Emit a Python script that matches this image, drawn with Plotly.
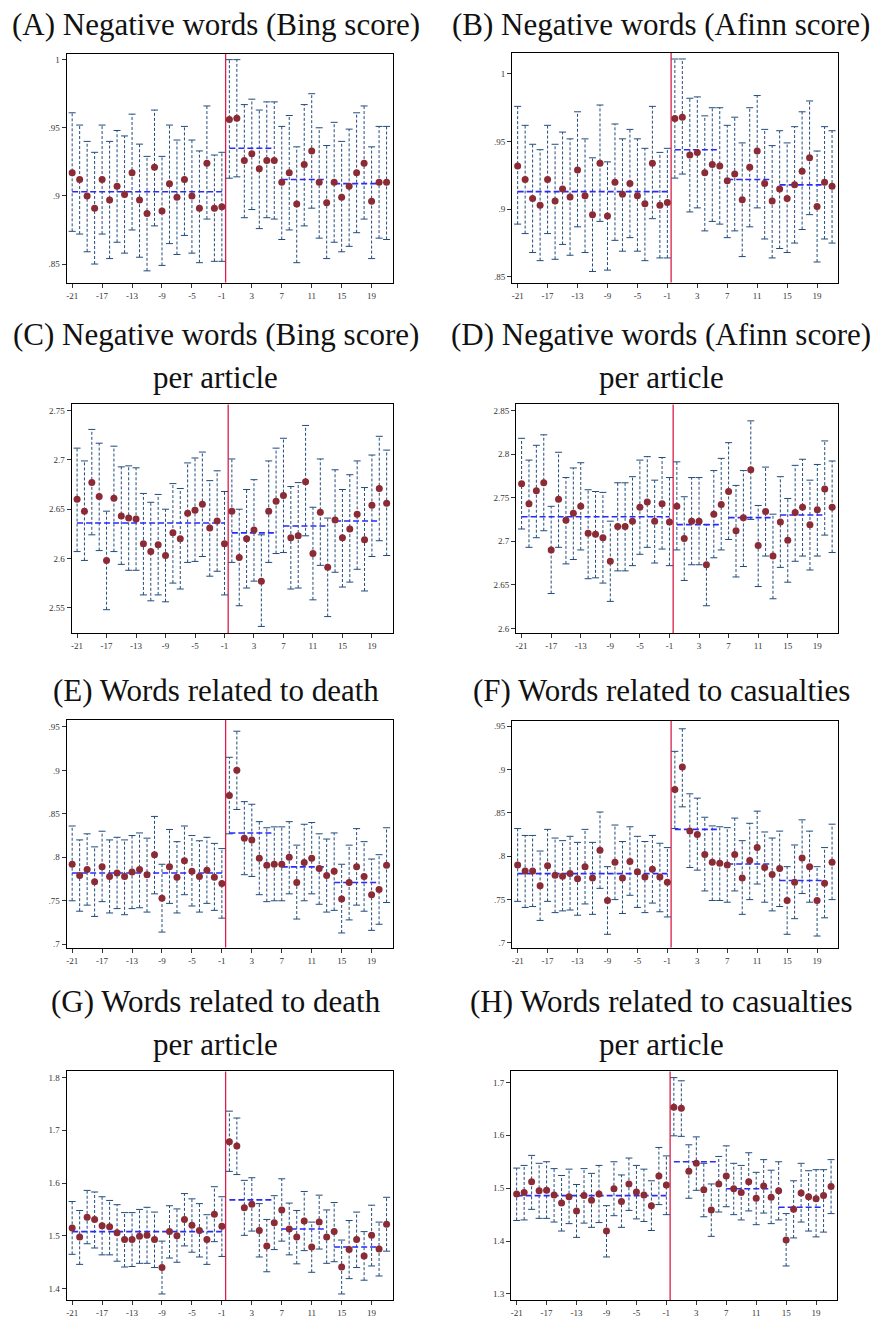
import plotly.graph_objects as go

# ---------------- data ----------------
REL_TIME = list(range(-21, 22))          # event time, 43 periods
EVENT_X = -0.5                           # event marker between -1 and 0
SEG_START = [-21, 0, 7, 14]              # averaging windows
SEG_END = [-1, 6, 13, 20]
X_TICKS = list(range(-21, 20, 4))

TITLES = [
    ["(A) Negative words (Bing score)"],
    ["(B) Negative words (Afinn score)"],
    ["(C) Negative words (Bing score)", "per article"],
    ["(D) Negative words (Afinn score)", "per article"],
    ["(E) Words related to death"],
    ["(F) Words related to casualties"],
    ["(G) Words related to death", "per article"],
    ["(H) Words related to casualties", "per article"],
]

A_point = [0.917,0.912,0.900,0.891,0.912,0.897,0.907,0.901,0.917,0.897,0.887,0.921,0.889,0.909,0.899,0.912,0.900,0.891,0.924,0.891,0.892,
           0.956,0.957,0.926,0.931,0.920,0.926,0.926,0.910,0.917,0.894,0.923,0.933,0.910,0.895,0.910,0.899,0.907,0.917,0.924,0.896,0.910,0.910]
A_hi = [0.961,0.952,0.940,0.932,0.952,0.940,0.948,0.944,0.960,0.938,0.929,0.963,0.929,0.952,0.941,0.951,0.941,0.933,0.966,0.930,0.932,
        1.000,1.000,0.967,0.971,0.963,0.969,0.969,0.951,0.959,0.936,0.967,0.975,0.950,0.937,0.954,0.940,0.949,0.961,0.966,0.936,0.951,0.951]
A_lo = [0.874,0.872,0.859,0.850,0.872,0.854,0.866,0.858,0.875,0.855,0.845,0.878,0.849,0.865,0.857,0.871,0.858,0.851,0.883,0.852,0.852,
        0.913,0.914,0.884,0.890,0.876,0.884,0.883,0.868,0.875,0.851,0.878,0.891,0.869,0.854,0.866,0.859,0.863,0.873,0.883,0.854,0.869,0.868]
A_mean = [0.903, 0.935, 0.912, 0.909]

B_point = [0.932,0.922,0.908,0.903,0.922,0.906,0.915,0.909,0.929,0.910,0.896,0.934,0.895,0.920,0.911,0.919,0.910,0.904,0.934,0.903,0.905,
           0.967,0.968,0.940,0.942,0.927,0.933,0.932,0.921,0.926,0.907,0.931,0.943,0.919,0.906,0.915,0.908,0.918,0.928,0.938,0.902,0.920,0.917]
B_hi = [0.976,0.962,0.948,0.944,0.962,0.948,0.957,0.952,0.972,0.952,0.938,0.977,0.935,0.963,0.952,0.959,0.952,0.945,0.976,0.942,0.945,
        1.011,1.011,0.982,0.983,0.969,0.975,0.975,0.962,0.968,0.949,0.975,0.984,0.959,0.947,0.958,0.949,0.961,0.972,0.980,0.943,0.961,0.958]
B_lo = [0.889,0.882,0.868,0.862,0.882,0.863,0.874,0.866,0.887,0.868,0.854,0.891,0.855,0.877,0.869,0.879,0.869,0.862,0.893,0.864,0.864,
        0.923,0.926,0.898,0.901,0.884,0.891,0.889,0.879,0.884,0.865,0.887,0.901,0.878,0.864,0.871,0.868,0.875,0.885,0.896,0.861,0.878,0.875]
B_mean = [0.913, 0.944, 0.922, 0.918]

C_point = [2.660,2.648,2.677,2.663,2.598,2.661,2.643,2.641,2.640,2.615,2.607,2.614,2.603,2.626,2.620,2.646,2.649,2.655,2.631,2.638,2.615,
           2.648,2.601,2.620,2.629,2.577,2.648,2.658,2.664,2.621,2.623,2.678,2.605,2.647,2.591,2.639,2.621,2.630,2.645,2.619,2.654,2.671,2.656]
C_hi = [2.712,2.699,2.731,2.717,2.648,2.714,2.693,2.694,2.692,2.666,2.657,2.665,2.650,2.676,2.671,2.697,2.702,2.708,2.679,2.689,2.668,
        2.701,2.650,2.670,2.680,2.624,2.699,2.712,2.722,2.673,2.677,2.735,2.652,2.701,2.641,2.690,2.670,2.685,2.699,2.672,2.705,2.724,2.710]
C_lo = [2.607,2.598,2.624,2.608,2.548,2.607,2.594,2.588,2.588,2.563,2.557,2.563,2.556,2.575,2.569,2.596,2.597,2.602,2.582,2.587,2.563,
        2.596,2.552,2.570,2.577,2.531,2.596,2.605,2.606,2.569,2.570,2.623,2.558,2.593,2.541,2.586,2.571,2.576,2.589,2.567,2.602,2.618,2.603]
C_mean = [2.636, 2.626, 2.633, 2.638]

D_point = [2.766,2.743,2.758,2.767,2.690,2.748,2.724,2.732,2.740,2.709,2.708,2.704,2.677,2.717,2.717,2.723,2.739,2.745,2.723,2.743,2.722,
           2.740,2.703,2.723,2.723,2.673,2.731,2.742,2.757,2.712,2.727,2.782,2.695,2.734,2.683,2.722,2.701,2.733,2.739,2.719,2.736,2.760,2.739]
D_hi = [2.818,2.793,2.810,2.822,2.740,2.802,2.773,2.784,2.790,2.759,2.757,2.756,2.723,2.767,2.767,2.774,2.793,2.797,2.770,2.796,2.773,
        2.791,2.751,2.773,2.773,2.719,2.781,2.795,2.813,2.764,2.781,2.838,2.741,2.785,2.731,2.774,2.749,2.787,2.794,2.770,2.788,2.815,2.792]
D_lo = [2.714,2.693,2.704,2.712,2.640,2.693,2.674,2.679,2.690,2.657,2.658,2.652,2.631,2.666,2.666,2.672,2.685,2.693,2.675,2.691,2.672,
        2.690,2.655,2.673,2.673,2.626,2.681,2.690,2.702,2.659,2.671,2.725,2.648,2.683,2.634,2.670,2.653,2.677,2.683,2.667,2.683,2.707,2.687]
D_mean = [2.728, 2.719, 2.727, 2.730]

E_point = [0.792,0.779,0.786,0.772,0.789,0.778,0.782,0.778,0.783,0.786,0.780,0.803,0.753,0.789,0.777,0.796,0.784,0.778,0.785,0.777,0.770,
           0.871,0.900,0.822,0.820,0.799,0.791,0.792,0.792,0.800,0.771,0.794,0.799,0.787,0.779,0.784,0.752,0.771,0.789,0.778,0.757,0.763,0.791]
E_hi = [0.836,0.820,0.827,0.812,0.830,0.820,0.823,0.820,0.825,0.828,0.822,0.847,0.792,0.832,0.818,0.836,0.825,0.819,0.823,0.816,0.810,
        0.915,0.945,0.864,0.861,0.841,0.834,0.835,0.835,0.841,0.814,0.838,0.840,0.827,0.821,0.828,0.792,0.814,0.833,0.818,0.798,0.803,0.834]
E_lo = [0.750,0.738,0.745,0.732,0.749,0.736,0.741,0.734,0.741,0.742,0.737,0.758,0.714,0.747,0.736,0.757,0.744,0.737,0.747,0.739,0.730,
        0.827,0.855,0.780,0.778,0.757,0.749,0.750,0.750,0.758,0.729,0.750,0.758,0.746,0.737,0.739,0.713,0.728,0.745,0.738,0.716,0.723,0.748]
E_mean = [0.782, 0.828, 0.789, 0.771]

F_point = [0.790,0.783,0.783,0.766,0.789,0.778,0.777,0.780,0.774,0.788,0.775,0.807,0.749,0.793,0.775,0.794,0.782,0.776,0.785,0.776,0.770,
           0.877,0.903,0.829,0.825,0.802,0.793,0.792,0.790,0.802,0.775,0.795,0.810,0.787,0.779,0.786,0.749,0.770,0.798,0.788,0.749,0.769,0.793]
F_hi = [0.832,0.824,0.824,0.806,0.831,0.821,0.818,0.823,0.816,0.831,0.816,0.851,0.788,0.836,0.817,0.834,0.823,0.817,0.824,0.815,0.810,
        0.921,0.947,0.872,0.867,0.845,0.835,0.834,0.833,0.844,0.818,0.838,0.852,0.828,0.821,0.829,0.788,0.813,0.842,0.829,0.788,0.810,0.837]
F_lo = [0.748,0.741,0.742,0.726,0.748,0.735,0.737,0.738,0.732,0.745,0.733,0.763,0.710,0.750,0.734,0.755,0.741,0.735,0.746,0.736,0.730,
        0.832,0.857,0.787,0.784,0.760,0.749,0.749,0.747,0.760,0.733,0.750,0.768,0.747,0.737,0.742,0.710,0.728,0.757,0.747,0.708,0.729,0.750]
F_mean = [0.780, 0.831, 0.791, 0.772]

G_point = [1.515,1.498,1.535,1.531,1.519,1.517,1.506,1.493,1.493,1.499,1.501,1.493,1.440,1.508,1.500,1.531,1.520,1.510,1.493,1.541,1.518,
           1.678,1.670,1.553,1.560,1.510,1.481,1.525,1.549,1.513,1.498,1.528,1.479,1.526,1.498,1.508,1.441,1.474,1.493,1.462,1.501,1.475,1.522]
G_hi = [1.565,1.548,1.586,1.583,1.574,1.567,1.559,1.544,1.544,1.550,1.554,1.545,1.490,1.557,1.551,1.580,1.570,1.561,1.540,1.593,1.574,
        1.736,1.723,1.605,1.610,1.561,1.531,1.576,1.608,1.562,1.548,1.584,1.526,1.577,1.549,1.563,1.492,1.529,1.545,1.508,1.558,1.526,1.573]
G_lo = [1.465,1.446,1.485,1.477,1.464,1.464,1.452,1.441,1.442,1.448,1.448,1.440,1.390,1.458,1.450,1.481,1.469,1.460,1.446,1.489,1.461,
        1.622,1.616,1.501,1.509,1.460,1.432,1.474,1.490,1.464,1.447,1.472,1.431,1.475,1.448,1.451,1.390,1.419,1.440,1.416,1.443,1.424,1.471]
G_mean = [1.508, 1.568, 1.513, 1.479]

H_point = [1.489,1.492,1.512,1.495,1.496,1.487,1.472,1.484,1.457,1.486,1.477,1.489,1.419,1.499,1.475,1.508,1.493,1.487,1.467,1.523,1.506,
           1.653,1.651,1.532,1.547,1.497,1.459,1.508,1.523,1.499,1.492,1.512,1.481,1.504,1.483,1.495,1.402,1.460,1.491,1.484,1.480,1.486,1.503]
H_hi = [1.538,1.543,1.562,1.547,1.550,1.537,1.524,1.536,1.507,1.537,1.528,1.543,1.467,1.550,1.525,1.557,1.543,1.536,1.514,1.577,1.561,
        1.709,1.703,1.582,1.597,1.547,1.508,1.560,1.580,1.547,1.543,1.567,1.530,1.554,1.534,1.550,1.452,1.514,1.547,1.533,1.535,1.535,1.554]
H_lo = [1.439,1.440,1.460,1.443,1.443,1.436,1.419,1.433,1.407,1.434,1.426,1.435,1.370,1.448,1.426,1.458,1.442,1.437,1.420,1.469,1.450,
        1.599,1.598,1.481,1.496,1.446,1.409,1.455,1.465,1.450,1.440,1.457,1.431,1.453,1.433,1.440,1.353,1.406,1.436,1.419,1.408,1.417,1.452]
H_mean = [1.486, 1.550, 1.499, 1.464]

Y_TICKS = [
    [0.85, 0.90, 0.95, 1.00],
    [0.85, 0.90, 0.95, 1.00],
    [2.55, 2.60, 2.65, 2.70, 2.75],
    [2.60, 2.65, 2.70, 2.75, 2.80, 2.85],
    [0.70, 0.75, 0.80, 0.85, 0.90, 0.95],
    [0.70, 0.75, 0.80, 0.85, 0.90, 0.95],
    [1.4, 1.5, 1.6, 1.7, 1.8],
    [1.3, 1.4, 1.5, 1.6, 1.7],
]

# ---------------- layout (pixel geometry) ----------------
W, H = 873, 1321
X_RANGE = [-21.7, 21.8]
BOXES = [  # left, right, top, bottom (px)
    (66, 392, 54, 283), (512, 838, 53, 283),
    (71, 392, 405, 634), (516, 838, 405, 634),
    (66, 392, 721, 949), (512, 838, 722, 949),
    (66, 392, 1073, 1302), (511, 837, 1073, 1302),
]
Y_RANGES = [
    [0.8364, 1.0042], [0.8458, 1.0155],
    [2.5243, 2.7564], [2.5947, 2.8569],
    [0.6962, 0.9580], [0.6947, 0.9561],
    [1.3785, 1.8113], [1.2886, 1.7208],
]
TITLE_Y = [[25], [25], [335, 378], [335, 378], [692], [692], [1003, 1046], [1003, 1046]]
TITLE_X = [215, 661]

SERIES = [
    (A_point, A_lo, A_hi, A_mean), (B_point, B_lo, B_hi, B_mean),
    (C_point, C_lo, C_hi, C_mean), (D_point, D_lo, D_hi, D_mean),
    (E_point, E_lo, E_hi, E_mean), (F_point, F_lo, F_hi, F_mean),
    (G_point, G_lo, G_hi, G_mean), (H_point, H_lo, H_hi, H_mean),
]

SERIF = "Liberation Serif, Times New Roman, serif"
BAR_COLOR = "#214c7c"
DOT_COLOR = "#8b2b35"
MEAN_COLOR = "#2a2aff"
EVENT_COLOR = "#dc1f4a"


def stata_label(v):
    s = ("%.2f" % v).rstrip("0").rstrip(".")
    if s.startswith("0."):
        s = s[1:]
    return s


fig = go.Figure()
layout_axes = {}
annotations = []
shapes = []

for i, (pts, lo, hi, means) in enumerate(SERIES):
    n = i + 1
    xref = "x" if n == 1 else f"x{n}"
    yref = "y" if n == 1 else f"y{n}"

    ex, ey = [], []
    for t, l, h in zip(REL_TIME, lo, hi):
        ex += [t, t, None]
        ey += [l, h, None]
    fig.add_trace(go.Scatter(
        x=ex, y=ey, mode="lines+markers", xaxis=xref, yaxis=yref,
        line=dict(color=BAR_COLOR, width=1, dash="3px,2px"),
        marker=dict(symbol="line-ew", size=5, line=dict(color=BAR_COLOR, width=1)),
        hoverinfo="skip", showlegend=False))

    mx, my = [], []
    for s, e, m in zip(SEG_START, SEG_END, means):
        mx += [s, e, None]
        my += [m, m, None]
    fig.add_trace(go.Scatter(
        x=mx, y=my, mode="lines", xaxis=xref, yaxis=yref,
        line=dict(color=MEAN_COLOR, width=1.6, dash="6px,3px"),
        hoverinfo="skip", showlegend=False))

    fig.add_trace(go.Scatter(
        x=REL_TIME, y=pts, mode="markers", xaxis=xref, yaxis=yref,
        marker=dict(color=DOT_COLOR, size=7),
        showlegend=False))

    shapes.append(dict(type="line", xref=xref, yref=f"{yref} domain",
                       x0=EVENT_X, x1=EVENT_X, y0=0, y1=1,
                       line=dict(color=EVENT_COLOR, width=1.3), layer="below"))

    left, right, top, bottom = BOXES[i]
    axis_common = dict(showgrid=False, zeroline=False, showline=True, mirror=True,
                       linecolor="black", linewidth=1.3, ticks="outside", ticklen=4,
                       tickwidth=1, tickcolor="#333",
                       tickfont=dict(family=SERIF, size=9, color="#333"))
    layout_axes[f"xaxis{n}"] = dict(
        domain=[left / W, right / W], range=X_RANGE, anchor=yref,
        tickvals=X_TICKS, ticktext=[str(t) for t in X_TICKS], **axis_common)
    layout_axes[f"yaxis{n}"] = dict(
        domain=[1 - bottom / H, 1 - top / H], range=Y_RANGES[i], anchor=xref,
        tickvals=Y_TICKS[i], ticktext=[stata_label(v) for v in Y_TICKS[i]],
        **axis_common)

    for line, ty in zip(TITLES[i], TITLE_Y[i]):
        annotations.append(dict(
            text=line, xref="paper", yref="paper",
            x=TITLE_X[i % 2] / W, y=1 - ty / H, xanchor="center", yanchor="middle",
            showarrow=False, font=dict(family=SERIF, size=31, color="#111")))

fig.update_layout(
    width=W, height=H, autosize=False,
    margin=dict(l=0, r=0, t=0, b=0),
    paper_bgcolor="white", plot_bgcolor="white",
    annotations=annotations, shapes=shapes, showlegend=False,
    **layout_axes)

# remove the browser's default 8px page margin so the figure fills the window exactly
fig.write_html("out.html",
               config={"displayModeBar": False, "staticPlot": True},
               post_script="document.body.style.margin='0';document.body.style.overflow='hidden';")
